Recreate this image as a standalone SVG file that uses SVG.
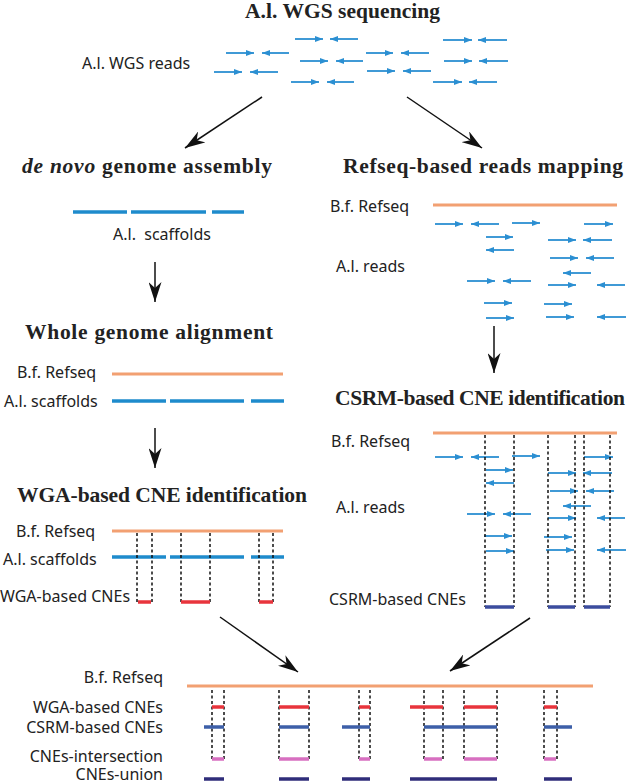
<svg xmlns="http://www.w3.org/2000/svg" xmlns:xlink="http://www.w3.org/1999/xlink" width="633" height="782" viewBox="0 0 633 782">
<style>
.title{font-family:"Liberation Serif","Times New Roman",serif;font-weight:bold;font-size:21.5px;fill:#222}
.lbl{font-family:"Noto Sans","Open Sans","DejaVu Sans",sans-serif;font-size:16px;fill:#222}
.ref{stroke:#f2a072;stroke-width:3.2;fill:none}
.scf{stroke:#1e8bcc;stroke-width:3.5;fill:none}
.rd{stroke:#2b8fd2;stroke-width:1.8;fill:none;marker-end:url(#rh)}
.dash{stroke:#111;stroke-width:1.5;stroke-dasharray:3 2.5;fill:none}
.wga{stroke:#e8343c;stroke-width:3.5;fill:none}
.csrm{stroke:#3d5fa8;stroke-width:3.5;fill:none}
.csrm2{stroke:#3b4c9e;stroke-width:3.5;fill:none}
.inter{stroke:#d76fc0;stroke-width:3.5;fill:none}
.uni{stroke:#2f2d7a;stroke-width:3.5;fill:none}
.big{stroke:#111;stroke-width:1.5;fill:none;marker-end:url(#bh)}
</style>
<defs>
<marker id="rh" viewBox="0 -3 8 6" refX="8" refY="0" markerWidth="8" markerHeight="6" markerUnits="userSpaceOnUse" orient="auto">
<path d="M0,-3 L8,0 L0,3 Z" fill="#2b8fd2"/>
</marker>
<marker id="bh" viewBox="0 -6.5 20 13" refX="20" refY="0" markerWidth="20" markerHeight="13" markerUnits="userSpaceOnUse" orient="auto">
<path d="M0,-6.5 L20,0 L0,6.5 L6,0 Z" fill="#111"/>
</marker>
</defs>

<g id="connectors">
<line class="big" x1="262" y1="97" x2="185" y2="148"/>
<line class="big" x1="407" y1="97" x2="482" y2="148"/>
<line class="big" x1="155" y1="262" x2="155" y2="302"/>
<line class="big" x1="155" y1="428" x2="155" y2="468"/>
<line class="big" x1="494" y1="326" x2="494" y2="373"/>
<line class="big" x1="220" y1="617" x2="298" y2="672"/>
<line class="big" x1="530" y1="618" x2="450" y2="671"/>
</g>

<g id="wgs-sequencing">
<text class="title" x="245" y="18" textLength="195">A.l. WGS sequencing</text>
<text class="lbl" x="82" y="69">A.l. WGS reads</text>
<line class="rd" x1="295" y1="39" x2="323" y2="39"/>
<line class="rd" x1="358" y1="39" x2="330" y2="39"/>
<line class="rd" x1="443" y1="40" x2="472" y2="40"/>
<line class="rd" x1="507" y1="40" x2="478" y2="40"/>
<line class="rd" x1="226" y1="53" x2="254" y2="53"/>
<line class="rd" x1="289" y1="53" x2="262" y2="53"/>
<line class="rd" x1="366" y1="53" x2="393" y2="53"/>
<line class="rd" x1="429" y1="53" x2="401" y2="53"/>
<line class="rd" x1="300" y1="61" x2="328" y2="61"/>
<line class="rd" x1="363" y1="61" x2="336" y2="61"/>
<line class="rd" x1="444" y1="61" x2="472" y2="61"/>
<line class="rd" x1="508" y1="61" x2="479" y2="61"/>
<line class="rd" x1="214" y1="72" x2="242" y2="72"/>
<line class="rd" x1="278" y1="72" x2="250" y2="72"/>
<line class="rd" x1="367" y1="71" x2="395" y2="71"/>
<line class="rd" x1="431" y1="71" x2="403" y2="71"/>
<line class="rd" x1="291" y1="82" x2="319" y2="82"/>
<line class="rd" x1="354" y1="82" x2="327" y2="82"/>
<line class="rd" x1="433" y1="82" x2="462" y2="82"/>
<line class="rd" x1="497" y1="82" x2="469" y2="82"/>
</g>

<g id="denovo-assembly">
<text class="title" x="22" y="173" textLength="250"><tspan font-style="italic">de novo</tspan> genome assembly</text>
<line class="scf" x1="73" y1="212" x2="127" y2="212"/>
<line class="scf" x1="131" y1="212" x2="206" y2="212"/>
<line class="scf" x1="212" y1="212" x2="244" y2="212"/>
<text class="lbl" x="113" y="240" style="white-space:pre">A.l.  scaffolds</text>
</g>

<g id="whole-genome-alignment">
<text class="title" x="25" y="339" textLength="248">Whole genome alignment</text>
<text class="lbl" x="17" y="378">B.f. Refseq</text>
<text class="lbl" x="4" y="407">A.l. scaffolds</text>
<line class="ref" x1="112" y1="374" x2="283" y2="374"/>
<line class="scf" x1="112" y1="401" x2="166" y2="401"/>
<line class="scf" x1="170" y1="401" x2="244" y2="401"/>
<line class="scf" x1="251" y1="401" x2="284" y2="401"/>
</g>

<g id="wga-cne">
<text class="title" x="17" y="502" textLength="290">WGA-based CNE identification</text>
<text class="lbl" x="16" y="537">B.f. Refseq</text>
<text class="lbl" x="3" y="565">A.l. scaffolds</text>
<text class="lbl" x="0" y="602">WGA-based CNEs</text>
<line class="ref" x1="112" y1="531" x2="283" y2="531"/>
<line class="scf" x1="112" y1="557" x2="166" y2="557"/>
<line class="scf" x1="170" y1="557" x2="244" y2="557"/>
<line class="scf" x1="251" y1="557" x2="284" y2="557"/>
<path class="dash" d="M137,533V602M152,533V602M181,533V602M210,533V602M259,533V602M273,533V602"/>
<line class="wga" x1="138" y1="602" x2="151" y2="602"/>
<line class="wga" x1="181" y1="602" x2="210" y2="602"/>
<line class="wga" x1="259" y1="602" x2="273" y2="602"/>
</g>

<g id="refseq-mapping">
<text class="title" x="343" y="173" textLength="280">Refseq-based reads mapping</text>
<text class="lbl" x="330" y="212">B.f. Refseq</text>
<text class="lbl" x="336" y="272">A.l. reads</text>
<line class="ref" x1="433" y1="205" x2="617" y2="205"/>
<g id="mapped-reads">
<line class="rd" x1="435" y1="224" x2="463" y2="224"/>
<line class="rd" x1="499" y1="224" x2="471" y2="224"/>
<line class="rd" x1="512" y1="223" x2="540" y2="223"/>
<line class="rd" x1="584" y1="224" x2="613" y2="224"/>
<line class="rd" x1="486" y1="237" x2="513" y2="237"/>
<line class="rd" x1="548" y1="240" x2="576" y2="240"/>
<line class="rd" x1="612" y1="240" x2="583" y2="240"/>
<line class="rd" x1="514" y1="250" x2="486" y2="250"/>
<line class="rd" x1="550" y1="258" x2="578" y2="258"/>
<line class="rd" x1="614" y1="258" x2="586" y2="258"/>
<line class="rd" x1="591" y1="273" x2="563" y2="273"/>
<line class="rd" x1="467" y1="281" x2="495" y2="281"/>
<line class="rd" x1="531" y1="281" x2="503" y2="281"/>
<line class="rd" x1="548" y1="285" x2="576" y2="285"/>
<line class="rd" x1="625" y1="285" x2="597" y2="285"/>
<line class="rd" x1="484" y1="303" x2="512" y2="303"/>
<line class="rd" x1="544" y1="304" x2="572" y2="304"/>
<line class="rd" x1="486" y1="318" x2="514" y2="318"/>
<line class="rd" x1="546" y1="317" x2="574" y2="317"/>
<line class="rd" x1="626" y1="317" x2="597" y2="317"/>
</g>
</g>

<g id="csrm-cne">
<text class="title" x="335" y="405" textLength="290">CSRM-based CNE identification</text>
<text class="lbl" x="331" y="447">B.f. Refseq</text>
<text class="lbl" x="336" y="513">A.l. reads</text>
<text class="lbl" x="329" y="605">CSRM-based CNEs</text>
<line class="ref" x1="433" y1="433" x2="617" y2="433"/>
<use xlink:href="#mapped-reads" href="#mapped-reads" x="0" y="233"/>
<path class="dash" d="M485,435V607M514,435V607M548,435V607M575,435V607M584,435V607M610,435V607"/>
<line class="csrm2" x1="485" y1="607" x2="514" y2="607"/>
<line class="csrm2" x1="548" y1="607" x2="575" y2="607"/>
<line class="csrm2" x1="584" y1="607" x2="610" y2="607"/>
</g>

<g id="comparison">
<text class="lbl" x="163" y="683" text-anchor="end">B.f. Refseq</text>
<text class="lbl" x="163" y="713" text-anchor="end">WGA-based CNEs</text>
<text class="lbl" x="163" y="733" text-anchor="end">CSRM-based CNEs</text>
<text class="lbl" x="163" y="762" text-anchor="end">CNEs-intersection</text>
<text class="lbl" x="163" y="780" text-anchor="end">CNEs-union</text>
<line class="ref" x1="187" y1="686" x2="593" y2="686"/>
<path class="dash" d="M212,690V759M224,690V759M279,690V759M309,690V759M359,690V759M370,690V759M424,690V759M443,690V759M464,690V759M497,690V759M544,690V759M557,690V759"/>
<g class="wga-row">
<line class="wga" x1="212" y1="707" x2="224" y2="707"/>
<line class="wga" x1="279" y1="707" x2="309" y2="707"/>
<line class="wga" x1="359" y1="707" x2="370" y2="707"/>
<line class="wga" x1="410" y1="707" x2="443" y2="707"/>
<line class="wga" x1="464" y1="707" x2="497" y2="707"/>
<line class="wga" x1="544" y1="707" x2="557" y2="707"/>
</g>
<g class="csrm-row">
<line class="csrm" x1="204" y1="727" x2="224" y2="727"/>
<line class="csrm" x1="279" y1="727" x2="309" y2="727"/>
<line class="csrm" x1="342" y1="727" x2="370" y2="727"/>
<line class="csrm" x1="424" y1="727" x2="497" y2="727"/>
<line class="csrm" x1="544" y1="727" x2="572" y2="727"/>
</g>
<g class="inter-row">
<line class="inter" x1="212" y1="759" x2="224" y2="759"/>
<line class="inter" x1="279" y1="759" x2="309" y2="759"/>
<line class="inter" x1="359" y1="759" x2="370" y2="759"/>
<line class="inter" x1="424" y1="759" x2="442" y2="759"/>
<line class="inter" x1="464" y1="759" x2="497" y2="759"/>
<line class="inter" x1="544" y1="759" x2="556" y2="759"/>
</g>
<g class="union-row">
<line class="uni" x1="204" y1="779" x2="224" y2="779"/>
<line class="uni" x1="279" y1="779" x2="309" y2="779"/>
<line class="uni" x1="342" y1="779" x2="370" y2="779"/>
<line class="uni" x1="410" y1="779" x2="497" y2="779"/>
<line class="uni" x1="544" y1="779" x2="572" y2="779"/>
</g>
</g>
</svg>
